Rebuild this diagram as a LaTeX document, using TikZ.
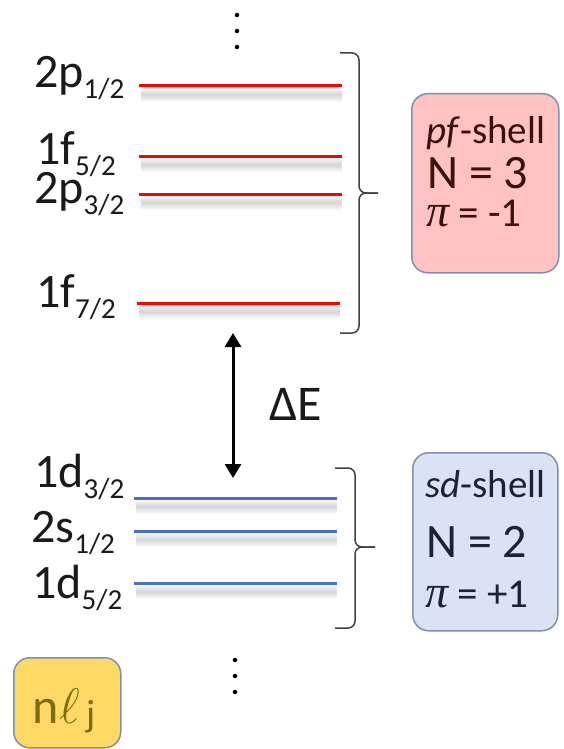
\documentclass[tikz,border=0pt]{standalone}
\usepackage{fix-cm}
\usepackage{fontspec}
\setmainfont{Carlito}
\newfontfamily\grserif{Liberation Serif}
\usetikzlibrary{arrows.meta}
\definecolor{redlvl}{HTML}{FF0000}
\definecolor{bluelvl}{HTML}{4472C4}
\definecolor{pinkfill}{HTML}{FFC3C3}
\definecolor{bluefill}{HTML}{DAE3F3}
\definecolor{yellowfill}{HTML}{FFD966}
\definecolor{boxborder}{HTML}{7F8FAF}
\definecolor{bracecol}{HTML}{404040}
\definecolor{textdark}{HTML}{1A1A1A}
\definecolor{pinktext}{HTML}{3A1010}
\definecolor{bluetext}{HTML}{1A2233}
\definecolor{olivetext}{HTML}{7F6A10}
\newcommand\lvllab[2]{#1\raisebox{-11pt}{\fontsize{29}{29}\selectfont #2}}
\newcommand\pisym{{\grserif\itshape\fontsize{46}{46}\selectfont π}}
\newcommand\lvlline[4]{%
  \coordinate (#4a) at (#2,#1);
  \coordinate (#4b) at (#3,#1);
  \foreach \w in {14,12,10,8,6,4,2}{
    \draw[shadowline, line width=\w pt, opacity=.025] ([yshift=-9pt,xshift=2pt]#4a) -- ([yshift=-9pt]#4b);
  }
}
\tikzset{
  shadowline/.style={draw=black},
  lab/.style={anchor=base west, inner sep=0pt, text=textdark, font=\fontsize{48}{48}\selectfont},
  redline/.style={draw=redlvl, line width=3pt},
  blueline/.style={draw=bluelvl, line width=3pt},
  infobox/.style={draw=boxborder, line width=1.5pt, rounded corners=16pt, anchor=north west, inner sep=0pt},
  bracestyle/.style={draw=bracecol, line width=1.5pt},
  dotstyle/.style={fill=black, circle, inner sep=0pt, minimum size=4.5pt},
  boxtxt/.style={anchor=base west, inner sep=0pt},
}
\begin{document}
\begin{tikzpicture}[x=1pt,y=-1pt]
\useasboundingbox (0,0) rectangle (564,749);
% top dots
\node[dotstyle] (td1) at (237,15) {};
\node[dotstyle] (td2) at (237,31) {};
\node[dotstyle] (td3) at (237,47) {};
% pf levels
\lvlline{86}{139}{342}{p1}
\draw[redline] (p1a) -- (p1b);
\lvlline{156}{139}{342}{p2}
\draw[redline] (p2a) -- (p2b);
\lvlline{194}{139}{342}{p3}
\draw[redline] (p3a) -- (p3b);
\lvlline{303}{137}{340}{p4}
\draw[redline] (p4a) -- (p4b);
\node[lab] (l1) at (34,88) {\lvllab{2p}{1/2}};
\node[lab] (l2) at (36,164) {\lvllab{1f}{5/2}};
\node[lab] (l3) at (34,203) {\lvllab{2p}{3/2}};
\node[lab] (l4) at (36,307) {\lvllab{1f}{7/2}};
% sd levels
\lvlline{498}{134}{337}{s1}
\draw[blueline] (s1a) -- (s1b);
\lvlline{531}{134}{337}{s2}
\draw[blueline] (s2a) -- (s2b);
\lvlline{583}{134}{337}{s3}
\draw[blueline] (s3a) -- (s3b);
\node[lab] (l5) at (34,487) {\lvllab{1d}{3/2}};
\node[lab] (l6) at (31,542) {\lvllab{2s}{1/2}};
\node[lab] (l7) at (32,598) {\lvllab{1d}{5/2}};
% braces
\draw[bracestyle] (340,53) -- (352,53) to[out=0,in=90] (359,60) -- (359,186)
  to[out=-90,in=180] (366,193) -- (378,193);
\draw[bracestyle] (378,193) -- (366,193) to[out=180,in=90] (359,200) -- (359,326)
  to[out=-90,in=0] (352,333) -- (340,333);
\draw[bracestyle] (335,468) -- (348,468) to[out=0,in=90] (355,475) -- (355,540)
  to[out=-90,in=180] (362,547) -- (375,547);
\draw[bracestyle] (375,547) -- (362,547) to[out=180,in=90] (355,554) -- (355,621)
  to[out=-90,in=0] (348,628) -- (335,628);
% arrow
\coordinate (at) at (233,333);
\coordinate (ab) at (233,478);
\draw[line width=3pt, {Triangle[width=16pt,length=14pt]}-{Triangle[width=16pt,length=14pt]}] (at) -- (ab);
\node[anchor=west, inner sep=0pt, text=textdark, font=\fontsize{50}{50}\selectfont] (de) at (269,404) {ΔE};
% pf box
\node[infobox, fill=pinkfill, minimum width=147pt, minimum height=179pt] (pfbox) at (411,93) {};
\node[boxtxt, text=pinktext, font=\fontsize{39}{39}\selectfont] (pft) at (426,143) {\textit{pf}-shell};
\node[boxtxt, text=pinktext, font=\fontsize{48}{48}\selectfont] (pfn) at (427,188) {N = 3};
\node[boxtxt, text=pinktext, font=\fontsize{41}{41}\selectfont] (pfp) at (426,226) {\pisym\ = -1};
% sd box
\node[infobox, fill=bluefill, minimum width=145pt, minimum height=178pt] (sdbox) at (412,452) {};
\node[boxtxt, text=bluetext, font=\fontsize{39}{39}\selectfont] (sdt) at (425,497) {\textit{sd}-shell};
\node[boxtxt, text=bluetext, font=\fontsize{48}{48}\selectfont] (sdn) at (426,557) {N = 2};
\node[boxtxt, text=bluetext, font=\fontsize{41}{41}\selectfont] (sdp) at (425,607) {\pisym\ = +1};
% legend box
\node[infobox, fill=yellowfill, minimum width=107pt, minimum height=90pt] (ybox) at (13,657) {};
\node[boxtxt, text=olivetext, font=\fontsize{50}{50}\selectfont] (yt) at (32,723) {n\kern1pt$\ell$\kern6pt\raisebox{-3pt}{\fontsize{38}{38}\selectfont j}};
% bottom dots
\node[dotstyle] (bd1) at (235,660) {};
\node[dotstyle] (bd2) at (235,676) {};
\node[dotstyle] (bd3) at (235,692) {};
\end{tikzpicture}
\end{document}
